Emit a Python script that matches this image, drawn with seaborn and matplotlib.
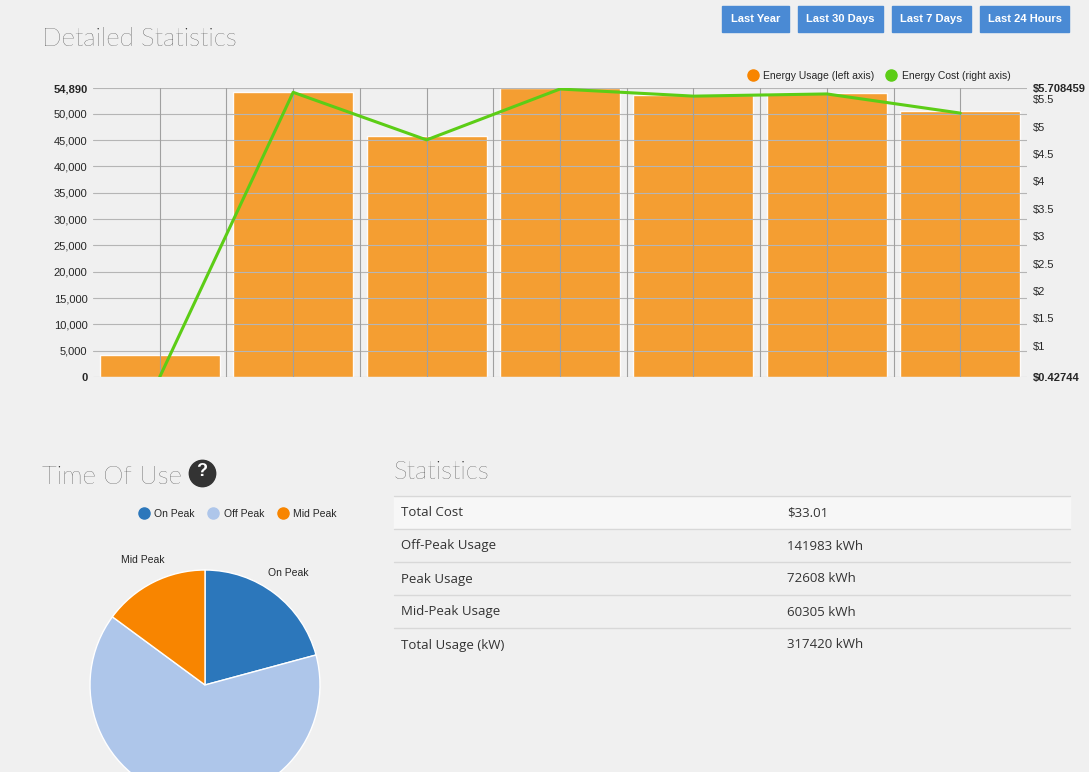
import matplotlib
matplotlib.use("Agg")
import matplotlib.pyplot as plt
import seaborn as sns
import pandas as pd
from matplotlib.lines import Line2D
from matplotlib.patches import Rectangle

sns.set_style("white")
plt.rcParams['font.family'] = ['Liberation Sans', 'DejaVu Sans']

periods = ["P1", "P2", "P3", "P4", "P5", "P6", "P7"]
usage = [4100, 54200, 45700, 54890, 53500, 54000, 50500]
cost = [0.42744, 5.63, 4.76, 5.69, 5.56, 5.60, 5.25]
left_ticks = [0, 5000, 10000, 15000, 20000, 25000, 30000, 35000, 40000, 45000, 50000, 54890]
right_ticks = [0.42744, 1, 1.5, 2, 2.5, 3, 3.5, 4, 4.5, 5, 5.5, 5.708459]
right_labels = ["$0.42744", "$1", "$1.5", "$2", "$2.5", "$3", "$3.5", "$4", "$4.5", "$5", "$5.5", "$5.708459"]
pie_labels = ["On Peak", "Off Peak", "Mid Peak"]
pie_values = [20.8, 64.3, 14.9]
pie_colors = ["#2c77bb", "#aec6ea", "#f88500"]
stat_names = ["Total Cost", "Off-Peak Usage", "Peak Usage", "Mid-Peak Usage", "Total Usage (kW)"]
stat_values = ["$33.01", "141983 kWh", "72608 kWh", "60305 kWh", "317420 kWh"]
buttons = ["Last Year", "Last 30 Days", "Last 7 Days", "Last 24 Hours"]

W, H = 1089, 772
BG = "#f0f0f0"
fig = plt.figure(figsize=(W/100, H/100), dpi=100, facecolor=BG)

def ax_px(x0, y0, x1, y1):
    return fig.add_axes([x0/W, 1-y1/H, (x1-x0)/W, (y1-y0)/H])

# Bar chart
ax = ax_px(93, 88, 1027, 377)
ax.set_facecolor(BG)
df = pd.DataFrame({"period": periods, "usage": usage})
sns.barplot(data=df, x="period", y="usage", color="#f59a28", saturation=1, width=0.9, ax=ax, zorder=2, alpha=0.95)
ax.set_xlim(-0.5, 6.5)
ax.set_ylim(0, 54890)
ax.set_yticks(left_ticks)
ax.set_yticklabels([f"{v:,}" for v in left_ticks], fontsize=8)
ax.get_yticklabels()[-1].set_fontweight("bold")
ax.get_yticklabels()[0].set_fontweight("bold")
ax.set_xticks([])
ax.set_xlabel(""); ax.set_ylabel("")
for yv in left_ticks:
    ax.axhline(yv, color="#b5b5b5", lw=0.8, zorder=3)
for i in range(7):
    ax.axvline(i, color="#a0a0a0", lw=0.8, zorder=3)
    if i < 6:
        ax.axvline(i+0.5, color="#a0a0a0", lw=0.8, zorder=3)
for s in ax.spines.values():
    s.set_visible(False)
ax.tick_params(axis="y", length=0, pad=4)

ax2 = ax.twinx()
sns.lineplot(x=list(range(7)), y=cost, color="#5ccd16", lw=2.2, ax=ax2, zorder=5)
ax2.set_ylim(0.42744, 5.708459)
ax2.set_yticks(right_ticks)
ax2.set_yticklabels(right_labels, fontsize=8)
ax2.get_yticklabels()[0].set_fontweight("bold")
ax2.get_yticklabels()[-1].set_fontweight("bold")
ax2.tick_params(axis="y", length=0, pad=4)
for s in ax2.spines.values():
    s.set_visible(False)
handles = [Line2D([], [], marker="o", ls="", color="#f88500", markersize=8),
           Line2D([], [], marker="o", ls="", color="#5ccd16", markersize=8)]
ax2.legend(handles, ["Energy Usage (left axis)", "Energy Cost (right axis)"], ncol=2,
           loc="lower right", bbox_to_anchor=(0.99, 1.0), frameon=False, fontsize=7.5,
           handletextpad=0.0, columnspacing=0.6, borderaxespad=0.3)

# Titles
tf = ['Lato', 'DejaVu Sans']
fig.text(42/W, 1-39/H, "Detailed Statistics", fontsize=18.5, fontweight="light", va="center", color="#222", family=tf)
fig.text(42/W, 1-477/H, "Time Of Use", fontsize=18.5, fontweight="light", va="center", color="#222", family=tf)
fig.text(394/W, 1-472/H, "Statistics", fontsize=18.5, fontweight="light", va="center", color="#222", family=tf)
fig.add_artist(Line2D([202/W], [1-473/H], marker="o", markersize=19, color="#333", ls=""))
fig.text(202/W, 1-472/H, "?", fontsize=13, fontweight="bold", color="white", ha="center", va="center", zorder=6)

# Buttons
bx = [(722, 789), (798, 883), (892, 971), (980, 1069)]
for (x0, x1), lab in zip(bx, buttons):
    fig.patches.append(Rectangle((x0/W, 1-32/H), (x1-x0)/W, 26/H, transform=fig.transFigure,
                                 color="#4a8ad4", zorder=5))
    fig.text((x0+x1)/2/W, 1-19/H, lab, fontsize=8, fontweight="bold", color="white", ha="center", va="center", zorder=6)

# Pie
axp = ax_px(60, 540, 350, 772)
axp.pie(pie_values, colors=pie_colors, startangle=90, counterclock=False, radius=1,
        wedgeprops=dict(edgecolor="white", linewidth=1))
axp.set_aspect("auto")
axp.set_xlim(-1.261, 1.261)
axp.set_ylim(-0.757, 1.261)
axp.axis("off")
fig.text(288/W, 1-573/H, pie_labels[0], fontsize=7.5, ha="center", va="center")
fig.text(143/W, 1-560/H, pie_labels[2], fontsize=7.5, ha="center", va="center")
lh = [Line2D([], [], marker="o", ls="", color=c, markersize=8) for c in pie_colors]
fig.legend(lh, pie_labels, ncol=3, loc="center", bbox_to_anchor=(235/W, 1-514/H), frameon=False,
           fontsize=7.5, handletextpad=0.0, columnspacing=0.8)

# Table
fig.patches.append(Rectangle((394/W, 1-529/H), (1070-394)/W, 33/H, transform=fig.transFigure,
                             color="#f7f7f7", zorder=1))
for i, (n, v) in enumerate(zip(stat_names, stat_values)):
    yc = 513 + 33*i
    fig.text(401/W, 1-yc/H, n, fontsize=9.5, va="center", color="#333", family=['Open Sans', 'DejaVu Sans'])
    fig.text(787/W, 1-yc/H, v, fontsize=9.5, va="center", color="#333", family=['Open Sans', 'DejaVu Sans'])
for yl in [496, 529, 562, 595, 628]:
    fig.add_artist(Line2D([394/W, 1070/W], [1-yl/H, 1-yl/H], color="#d8d8d8", lw=1))

fig.savefig("out.png", dpi=100, facecolor=BG)
